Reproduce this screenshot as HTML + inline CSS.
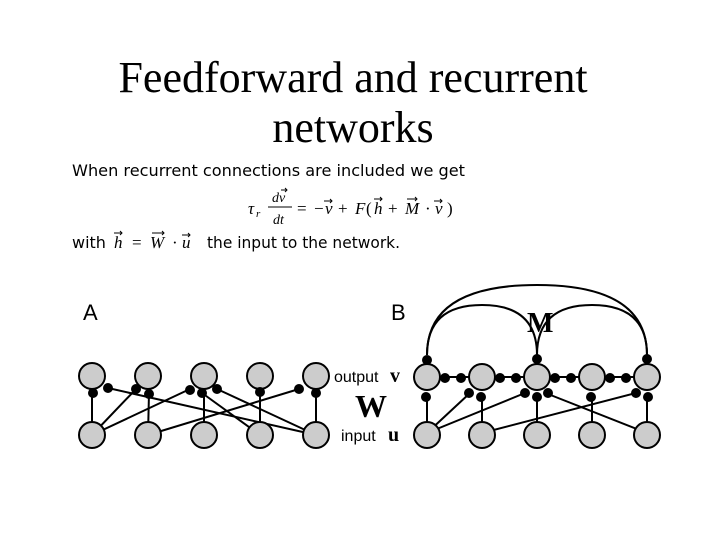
<!DOCTYPE html><html><head><style>body{margin:0;background:#fff}svg{display:block}</style></head><body>
<svg width="720" height="540" xmlns="http://www.w3.org/2000/svg">
<g font-family="Liberation Serif, serif" font-size="44" text-anchor="middle" fill="#000">
<text x="353" y="92">Feedforward and recurrent</text>
<text x="353" y="142">networks</text></g>
<g font-family="DejaVu Sans, sans-serif" font-size="16" fill="#000">
<text x="72" y="176" textLength="393" lengthAdjust="spacingAndGlyphs">When recurrent connections are included we get</text>
<text x="72" y="248">with</text>
<text x="207" y="248" textLength="193" lengthAdjust="spacingAndGlyphs">the input to the network.</text>
</g>
<g font-family="Liberation Serif, serif" font-style="italic" font-size="17" fill="#000">
<text x="114" y="248">h</text><text x="132" y="248" font-style="normal">=</text><text x="150" y="248">W</text><text x="172" y="248" font-style="normal">·</text><text x="182" y="248">u</text>
<text x="248" y="214">τ</text><text x="256" y="217" font-size="11">r</text>
<text x="272" y="202" font-size="14">dv</text><text x="273" y="224" font-size="14">dt</text>
<text x="297" y="214" font-style="normal">=</text><text x="314" y="214" font-style="normal">−</text><text x="325" y="214">v</text>
<text x="338" y="214" font-style="normal">+</text><text x="355" y="214">F</text><text x="366" y="214" font-style="normal">(</text><text x="374" y="214">h</text>
<text x="388" y="214" font-style="normal">+</text><text x="405" y="214">M</text><text x="425" y="214" font-style="normal">·</text><text x="435" y="214">v</text><text x="447" y="214" font-style="normal">)</text>
</g>
<g stroke="#000" stroke-width="1" fill="none">
<line x1="268" y1="207" x2="292" y2="207"/>
<path d="M281 190h6m-2-2l2 2-2 2"/><path d="M324 201h8m-2-2l2 2-2 2"/><path d="M374 199h8m-2-2l2 2-2 2"/>
<path d="M407 199h10m-2-2l2 2-2 2"/><path d="M434 201h8m-2-2l2 2-2 2"/>
<path d="M114 233h8m-2-2l2 2-2 2"/><path d="M152 233h12m-2-2l2 2-2 2"/><path d="M182 235h8m-2-2l2 2-2 2"/>
</g>
<g font-family="Liberation Sans, sans-serif" font-size="22"><text x="83" y="320">A</text><text x="391" y="320">B</text></g>
<text x="527" y="332" font-family="Liberation Serif,serif" font-weight="bold" font-size="28">M</text>
<g font-family="Liberation Sans, sans-serif" font-size="16"><text x="334" y="382">output</text><text x="341" y="441">input</text></g>
<g font-family="Liberation Serif,serif" font-weight="bold"><text x="390" y="382" font-size="20">v</text><text x="355" y="417" font-size="32">W</text><text x="388" y="441" font-size="20">u</text></g>
<g stroke="#000" stroke-width="2" fill="none">
<line x1="92" y1="435" x2="92" y2="393"/><line x1="92" y1="435" x2="136" y2="389"/><line x1="92" y1="435" x2="190" y2="389"/>
<line x1="148" y1="435" x2="149" y2="393"/><line x1="148" y1="435" x2="299" y2="389"/>
<line x1="204" y1="435" x2="204" y2="393"/><line x1="260" y1="435" x2="260" y2="393"/><line x1="316" y1="435" x2="316" y2="393"/>
<line x1="108" y1="388" x2="316" y2="435"/><line x1="217" y1="389" x2="316" y2="435"/><line x1="202" y1="393" x2="260" y2="435"/>
<path d="M427 355 Q427 305 482 305 Q537 305 537 355"/><path d="M537 355 Q537 305 592 305 Q647 305 647 355"/><path d="M427 355 Q427 285 537 285 Q647 285 647 355"/>
<line x1="427" y1="377" x2="647" y2="377"/>
<line x1="427" y1="433" x2="427" y2="395"/><line x1="427" y1="433" x2="470" y2="393"/><line x1="427" y1="433" x2="525" y2="393"/>
<line x1="482" y1="433" x2="482" y2="397"/><line x1="482" y1="433" x2="636" y2="393"/>
<line x1="537" y1="433" x2="537" y2="397"/><line x1="592" y1="433" x2="592" y2="397"/><line x1="647" y1="433" x2="647" y2="397"/>
<line x1="548" y1="394" x2="647" y2="433"/>
</g>
<g fill="#ccc" stroke="#000" stroke-width="2">
<circle cx="92" cy="376" r="13"/><circle cx="148" cy="376" r="13"/><circle cx="204" cy="376" r="13"/><circle cx="260" cy="376" r="13"/><circle cx="316" cy="376" r="13"/>
<circle cx="92" cy="435" r="13"/><circle cx="148" cy="435" r="13"/><circle cx="204" cy="435" r="13"/><circle cx="260" cy="435" r="13"/><circle cx="316" cy="435" r="13"/>
<circle cx="427" cy="377" r="13"/><circle cx="482" cy="377" r="13"/><circle cx="537" cy="377" r="13"/><circle cx="592" cy="377" r="13"/><circle cx="647" cy="377" r="13"/>
<circle cx="427" cy="435" r="13"/><circle cx="482" cy="435" r="13"/><circle cx="537" cy="435" r="13"/><circle cx="592" cy="435" r="13"/><circle cx="647" cy="435" r="13"/>
</g>
<g fill="#000">
<circle cx="93" cy="393" r="5"/><circle cx="108" cy="388" r="5"/><circle cx="136" cy="389" r="5"/><circle cx="149" cy="394" r="5"/>
<circle cx="190" cy="390" r="5"/><circle cx="202" cy="393" r="5"/><circle cx="217" cy="389" r="5"/><circle cx="260" cy="392" r="5"/>
<circle cx="299" cy="389" r="5"/><circle cx="316" cy="393" r="5"/>
<circle cx="427" cy="360" r="5"/><circle cx="537" cy="359" r="5"/><circle cx="647" cy="359" r="5"/>
<circle cx="445" cy="378" r="5"/><circle cx="461" cy="378" r="5"/><circle cx="500" cy="378" r="5"/><circle cx="516" cy="378" r="5"/>
<circle cx="555" cy="378" r="5"/><circle cx="571" cy="378" r="5"/><circle cx="610" cy="378" r="5"/><circle cx="626" cy="378" r="5"/>
<circle cx="426" cy="397" r="5"/><circle cx="469" cy="393" r="5"/><circle cx="481" cy="397" r="5"/>
<circle cx="525" cy="393" r="5"/><circle cx="537" cy="397" r="5"/><circle cx="548" cy="393" r="5"/>
<circle cx="591" cy="397" r="5"/><circle cx="636" cy="393" r="5"/><circle cx="648" cy="397" r="5"/>
</g>
</svg></body></html>
